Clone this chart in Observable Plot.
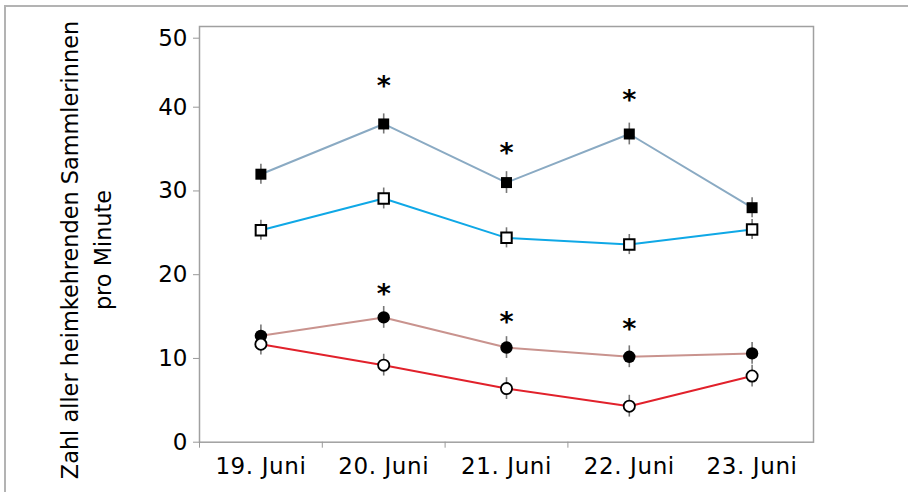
<!DOCTYPE html>
<html><head><meta charset="utf-8">
<script src="https://cdn.jsdelivr.net/npm/d3@7"></script>
<script src="https://cdn.jsdelivr.net/npm/@observablehq/plot@0.6"></script>
<style>
html,body{margin:0;padding:0;background:#fff;width:908px;height:492px;overflow:hidden;}
#outer{position:absolute;left:4px;top:5px;width:904px;height:487px;border-top:2px solid #b3b3b3;border-left:2px solid #b3b3b3;}
#chart{position:absolute;left:0;top:0;}
</style></head><body><div id="outer"></div><div id="chart"></div>
<script>
const days = ["19. Juni", "20. Juni", "21. Juni", "22. Juni", "23. Juni"];
const filledSquare = [32.0, 38.0, 31.0, 36.8, 28.0];
const filledSquareErr = [1.2, 1.2, 1.3, 1.3, 1.2];
const openSquare = [25.3, 29.1, 24.4, 23.6, 25.4];
const openSquareErr = [1.2, 1.25, 1.2, 1.2, 1.2];
const filledCircle = [12.7, 14.9, 11.3, 10.2, 10.6];
const filledCircleErr = [1.3, 1.3, 1.3, 1.3, 1.3];
const openCircle = [11.7, 9.2, 6.4, 4.3, 7.9];
const openCircleErr = [1.3, 1.3, 1.3, 1.3, 1.3];
const starTopDays = [1, 2, 3];
const starTopY = [44.1, 35.3, 42.0];
const starLowDays = [1, 2, 3];
const starLowY = [18.5, 15.1, 14.3];
const yTicks = [0, 10, 20, 30, 40, 50];
const yTitle = ["Zahl aller heimkehrenden Sammlerinnen", "pro Minute"];

const FONT = "DejaVu Sans";
const series = [
  {values: filledSquare, err: filledSquareErr, line: "#8aaac3", symbol: "square", fill: "#000", stroke: "none", r: 6.2, sw: 0},
  {values: openSquare, err: openSquareErr, line: "#0fa8e6", symbol: "square", fill: "#fff", stroke: "#000", r: 5.9, sw: 2},
  {values: filledCircle, err: filledCircleErr, line: "#c9938e", symbol: "circle", fill: "#000", stroke: "none", r: 6.2, sw: 0},
  {values: openCircle, err: openCircleErr, line: "#e1212b", symbol: "circle", fill: "#fff", stroke: "#000", r: 5.6, sw: 1.8}
];
const rowsOf = s => s.values.map((v, i) => ({x: i, y: v, lo: v - s.err[i], hi: v + s.err[i]}));

const marks = [Plot.frame({stroke: "#a0a0a0", strokeWidth: 1.5})];
for (const s of series) marks.push(Plot.line(rowsOf(s), {x: "x", y: "y", stroke: s.line, strokeWidth: 2}));
for (const s of series) marks.push(Plot.ruleX(rowsOf(s), {x: "x", y1: "lo", y2: "hi", stroke: "#777", strokeWidth: 1.6}));
for (const s of series) marks.push(Plot.dot(rowsOf(s), {x: "x", y: "y", symbol: s.symbol, r: s.r, fill: s.fill, stroke: s.stroke, strokeWidth: s.sw}));
marks.push(Plot.text(starTopDays, {x: d => d, y: (d, i) => starTopY[i], text: () => "*", fontSize: 27, fontWeight: "bold", fontFamily: FONT, dy: 7}));
marks.push(Plot.text(starLowDays, {x: d => d, y: (d, i) => starLowY[i], text: () => "*", fontSize: 27, fontWeight: "bold", fontFamily: FONT, dy: 7}));
marks.push(Plot.axisY({ticks: yTicks, tickSize: 6, tickPadding: 6, stroke: "#999", fill: "#000", fontSize: 23, fontFamily: FONT, tickFormat: d => String(d), label: null}));
marks.push(Plot.axisX({ticks: days.map((d, i) => i), tickFormat: i => days[i], tickSize: 0, tickPadding: 15, fill: "#000", fontSize: 23, fontFamily: FONT, label: null}));
marks.push(Plot.axisX({ticks: days.slice(1).map((d, i) => i - 0.5), tickFormat: () => "", tickSize: 6, stroke: "#999", label: null}));

const plot = Plot.plot({
  width: 908, height: 492,
  marginLeft: 199, marginRight: 95, marginTop: 26, marginBottom: 50.3,
  style: {background: "transparent", fontFamily: FONT, overflow: "visible"},
  x: {type: "linear", domain: [-0.5, 4.5], range: [199, 813], axis: null, label: null},
  y: {type: "linear", domain: [0, 40, 50], range: [441.7, 106.7, 37.7], axis: null, label: null},
  marks
});
const svg = d3.select(plot);
svg.selectAll('[aria-label="x-axis tick label"] text').attr("letter-spacing", "0.6px");
const t = svg.append("text").attr("transform", "translate(0,250) rotate(-90)")
  .attr("text-anchor", "middle").attr("font-family", FONT).attr("font-size", 22.4).attr("fill", "#000");
t.append("tspan").attr("x", 0).attr("y", 78).text(yTitle[0]);
t.append("tspan").attr("x", 0).attr("y", 111).text(yTitle[1]);
document.getElementById("chart").appendChild(plot);
</script></body></html>
